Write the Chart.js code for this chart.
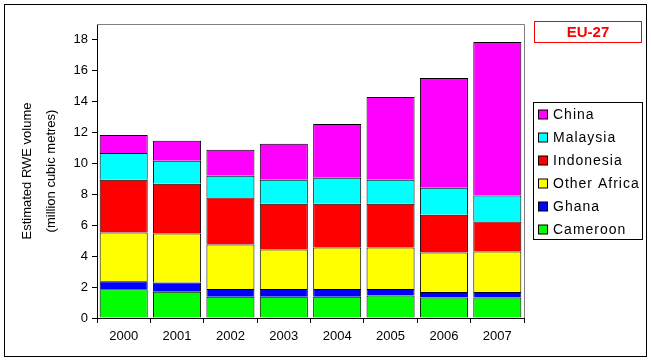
<!DOCTYPE html>
<html>
<head>
<meta charset="utf-8">
<script src="https://cdn.jsdelivr.net/npm/chart.js@4/dist/chart.umd.min.js"></script>
<style>
  html, body { margin: 0; padding: 0; background: #fff; }
  #wrap { position: relative; width: 651px; height: 361px; }
</style>
</head>
<body>
<div id="wrap"><canvas id="rweChart" width="651" height="361"></canvas></div>
<script>
const years = ['2000', '2001', '2002', '2003', '2004', '2005', '2006', '2007'];

// million cubic metres RWE
const cameroon    = [1.85, 1.70, 1.37, 1.37, 1.37, 1.46, 1.33, 1.33];
const ghana       = [0.53, 0.60, 0.50, 0.50, 0.50, 0.41, 0.35, 0.35];
const otherAfrica = [3.14, 3.16, 2.88, 2.56, 2.68, 2.68, 2.55, 2.62];
const indonesia   = [3.42, 3.22, 3.03, 2.96, 2.84, 2.84, 2.45, 1.93];
const malaysia    = [1.73, 1.48, 1.41, 1.55, 1.68, 1.55, 1.74, 1.68];
const china       = [1.16, 1.29, 1.68, 2.32, 3.47, 5.34, 7.09, 9.92];

const yTicks = [0, 2, 4, 6, 8, 10, 12, 14, 16, 18];

const FONT = "'Liberation Sans', Arial, sans-serif";

function series(label, data, colour) {
    return {
        label: label,
        data: data,
        backgroundColor: colour,
        borderColor: '#000000',
        // single line between stacked segments
        borderWidth: { top: 1, left: 1, right: 1, bottom: 0 },
        borderSkipped: false,
        barPercentage: 0.9,
        categoryPercentage: 1.0
    };
}

// frame, plot border, title box and legend box
const decorations = {
    id: 'decorations',
    beforeDraw(chart) {
        const ctx = chart.ctx;
        ctx.save();
        ctx.fillStyle = '#ffffff';
        ctx.fillRect(0, 0, chart.width, chart.height);
        ctx.restore();
    },
    afterDraw(chart) {
        const ctx = chart.ctx;
        const area = chart.chartArea;
        ctx.save();

        // outer frame
        ctx.strokeStyle = '#000000';
        ctx.lineWidth = 1;
        ctx.strokeRect(4.5, 4.5, 642, 352);

        // grey top / right edge of plot area
        ctx.strokeStyle = '#808080';
        ctx.beginPath();
        ctx.moveTo(area.left, area.top + 0.5);
        ctx.lineTo(area.right + 0.5, area.top + 0.5);
        ctx.lineTo(area.right + 0.5, area.bottom);
        ctx.stroke();

        // EU-27 box
        ctx.strokeStyle = '#ff0000';
        ctx.strokeRect(534.5, 21.5, 107, 21);
        ctx.fillStyle = '#ff0000';
        ctx.font = 'bold 15px ' + FONT;
        ctx.textAlign = 'center';
        ctx.textBaseline = 'middle';
        ctx.fillText('EU-27', 588, 32.5);

        // legend (top item = last dataset)
        ctx.strokeStyle = '#000000';
        ctx.strokeRect(533.5, 102.5, 109, 137);
        ctx.font = '14px ' + FONT;
        ctx.letterSpacing = '1px';
        ctx.textAlign = 'left';
        const sets = chart.data.datasets.slice().reverse();
        sets.forEach((ds, i) => {
            const cy = 114.5 + i * 23;
            ctx.fillStyle = ds.backgroundColor;
            ctx.fillRect(538.5, cy - 4.5, 9, 9);
            ctx.strokeRect(538.5, cy - 4.5, 9, 9);
            ctx.fillStyle = '#000000';
            ctx.fillText(ds.label, 553, cy + 0.5);
        });

        ctx.restore();
    }
};

new Chart(document.getElementById('rweChart').getContext('2d'), {
    type: 'bar',
    data: {
        labels: years,
        datasets: [
            series('Cameroon', cameroon, '#00ff00'),
            series('Ghana', ghana, '#0000ff'),
            series('Other Africa', otherAfrica, '#ffff00'),
            series('Indonesia', indonesia, '#ff0000'),
            series('Malaysia', malaysia, '#00ffff'),
            series('China', china, '#ff00ff')
        ]
    },
    options: {
        responsive: false,
        animation: false,
        layout: {
            padding: { left: 0, top: 24, right: 127, bottom: 0 }
        },
        plugins: {
            legend: { display: false },
            tooltip: { enabled: false }
        },
        scales: {
            x: {
                stacked: true,
                afterFit(scale) { scale.height = 43; },
                grid: {
                    display: true,
                    offset: true,
                    drawOnChartArea: false,
                    drawTicks: true,
                    tickLength: 5,
                    color: '#000000'
                },
                border: { display: true, color: '#000000', width: 1 },
                ticks: {
                    color: '#000000',
                    font: { family: FONT, size: 13 },
                    padding: 6,
                    maxRotation: 0
                }
            },
            y: {
                stacked: true,
                min: 0,
                max: 19,
                afterFit(scale) { scale.width = 97; },
                afterBuildTicks(scale) {
                    scale.ticks = yTicks.map(v => ({ value: v }));
                },
                grid: {
                    display: true,
                    drawOnChartArea: false,
                    drawTicks: true,
                    tickLength: 5,
                    color: '#000000'
                },
                border: { display: true, color: '#000000', width: 1 },
                ticks: {
                    color: '#000000',
                    font: { family: FONT, size: 13 },
                    padding: 4
                },
                title: {
                    display: true,
                    text: ['Estimated RWE volume', '(million cubic metres)'],
                    color: '#000000',
                    font: { family: FONT, size: 13, lineHeight: 1.85 },
                    padding: { top: 15, bottom: 0 }
                }
            }
        }
    },
    plugins: [decorations]
});
</script>
</body>
</html>
